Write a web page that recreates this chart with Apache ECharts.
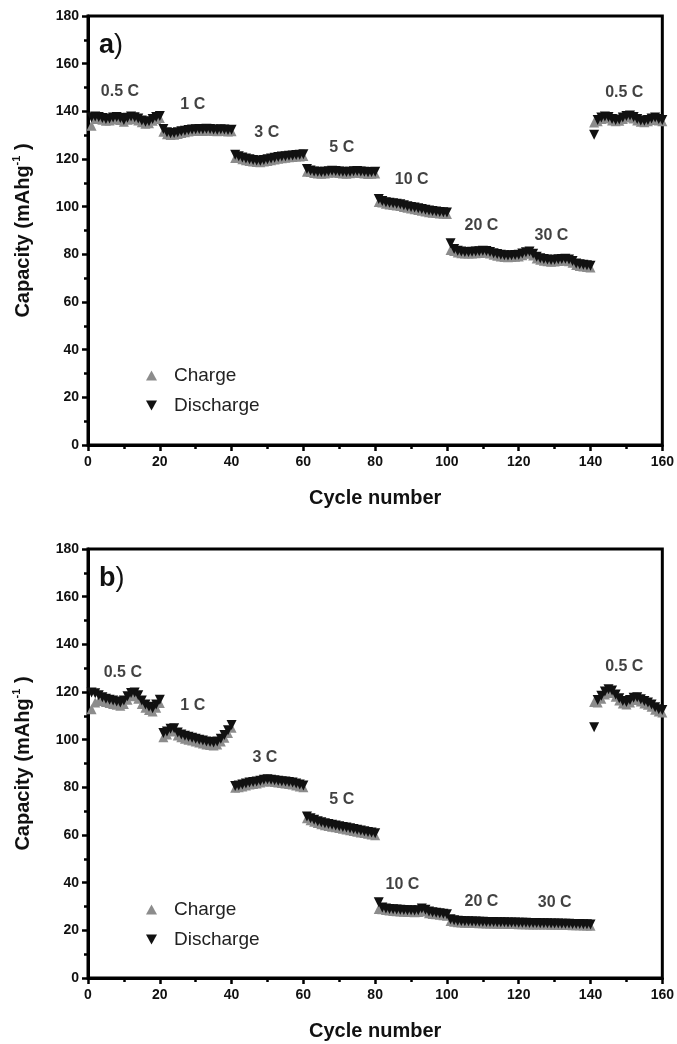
<!DOCTYPE html>
<html><head><meta charset="utf-8">
<script src="https://cdn.jsdelivr.net/npm/echarts@6/dist/echarts.min.js"></script>
<style>html,body{margin:0;padding:0;background:#fff}#c{width:677px;height:1044px}</style>
</head><body><div id="c"></div>
<script>
const cycles = Array.from({length: 160}, (_, i) => i + 1);

const chargeA = [
134.0,136.8,136.9,136.5,136.0,136.2,136.6,136.8,136.4,135.6,136.5,137.0,136.7,136.2,135.4,134.8,135.0,136.0,136.8,137.2,
131.4,130.4,130.1,130.2,130.5,130.9,131.2,131.5,131.7,131.8,131.9,131.8,132.0,131.9,131.7,131.6,131.8,131.7,131.5,131.6,
120.4,120.4,119.9,119.5,119.2,118.9,118.7,118.6,118.9,119.2,119.5,119.8,120.1,120.3,120.5,120.7,120.8,121.0,121.1,121.3,
114.6,114.5,114.1,113.9,113.8,113.9,114.2,114.4,114.3,114.1,113.9,113.8,114.0,114.2,114.3,114.1,113.9,113.7,113.8,113.9,
102.0,101.7,101.2,100.9,100.7,100.5,100.3,99.9,99.5,99.2,98.9,98.6,98.3,98.0,97.7,97.5,97.3,97.1,97.0,96.9,
81.8,81.4,80.8,80.5,80.3,80.3,80.4,80.5,80.6,80.8,80.7,80.3,79.8,79.4,79.1,78.9,78.8,78.9,79.0,79.1,
79.6,80.2,80.5,79.5,78.3,77.7,77.3,77.1,76.9,77.0,77.2,77.3,77.4,77.1,76.5,75.5,75.1,74.9,74.7,74.5,
135.3,135.8,136.8,137.2,137.0,136.2,135.8,136.0,136.8,137.4,137.6,137.0,136.2,135.6,135.4,135.8,136.4,136.8,136.2,135.8
];
const dischargeA = [
137.5,137.8,137.6,137.2,136.8,137.0,137.4,137.6,137.2,136.4,137.3,137.8,137.5,137.0,136.2,135.6,135.8,136.8,137.6,138.0,
132.6,131.2,130.8,130.9,131.2,131.6,131.9,132.2,132.4,132.5,132.6,132.5,132.7,132.6,132.4,132.3,132.5,132.4,132.2,132.3,
121.8,121.2,120.6,120.2,119.9,119.6,119.4,119.3,119.6,119.9,120.2,120.5,120.8,121.0,121.2,121.4,121.5,121.7,121.8,122.0,
115.8,115.2,114.8,114.6,114.5,114.6,114.9,115.1,115.0,114.8,114.6,114.5,114.7,114.9,115.0,114.8,114.6,114.4,114.5,114.6,
103.2,102.4,101.9,101.6,101.4,101.2,101.0,100.6,100.2,99.9,99.6,99.3,99.0,98.7,98.4,98.2,98.0,97.8,97.7,97.6,
84.6,82.2,81.5,81.2,81.0,81.0,81.1,81.2,81.3,81.5,81.4,81.0,80.5,80.1,79.8,79.6,79.5,79.6,79.7,79.8,
80.4,80.9,81.2,80.2,79.0,78.4,78.0,77.8,77.6,77.7,77.9,78.0,78.1,77.8,77.2,76.2,75.8,75.6,75.4,75.2,
130.2,136.4,137.4,137.8,137.6,136.8,136.4,136.6,137.4,138.0,138.2,137.6,136.8,136.2,136.0,136.4,137.0,137.4,136.8,136.4
];
const chargeB = [
112.8,115.6,116.4,116.2,115.8,115.4,115.0,114.6,114.2,115.0,116.8,118.2,118.4,117.2,115.0,113.4,112.4,111.8,113.4,115.4,
101.0,102.2,103.4,103.6,101.8,101.0,100.4,100.0,99.6,99.2,98.8,98.4,98.0,97.8,97.6,98.0,99.2,100.8,102.8,105.0,
79.8,80.0,80.4,80.8,81.2,81.4,81.6,82.0,82.4,82.6,82.4,82.2,82.0,81.8,81.6,81.4,81.2,80.8,80.4,80.0,
67.0,66.2,65.6,65.0,64.5,64.1,63.8,63.5,63.2,62.9,62.6,62.3,62.0,61.7,61.4,61.1,60.8,60.5,60.2,59.9,
29.0,28.8,28.5,28.3,28.1,28.0,27.9,27.8,27.7,27.7,27.6,27.7,28.5,27.9,27.2,26.9,26.7,26.5,26.3,26.1,
23.9,23.6,23.4,23.3,23.2,23.2,23.1,23.1,23.0,23.0,22.9,22.9,22.9,22.8,22.8,22.8,22.7,22.7,22.7,22.6,
22.6,22.6,22.5,22.5,22.5,22.4,22.4,22.4,22.3,22.3,22.3,22.2,22.2,22.2,22.1,22.1,22.1,22.0,22.0,21.9,
115.8,115.6,117.2,119.0,120.0,119.6,118.0,116.4,115.2,114.8,115.6,116.6,116.8,116.0,115.2,114.6,113.8,112.6,111.8,111.4
];
const dischargeB = [
119.8,119.5,118.6,117.8,117.2,116.8,116.4,116.0,115.6,116.4,118.2,119.6,119.8,118.6,116.4,114.8,113.8,113.2,114.8,116.8,
102.8,103.4,104.6,104.8,103.0,102.2,101.6,101.2,100.8,100.4,100.0,99.6,99.2,99.0,98.8,99.2,100.4,102.0,104.0,106.2,
80.6,80.8,81.2,81.6,82.0,82.2,82.4,82.8,83.2,83.4,83.2,83.0,82.8,82.6,82.4,82.2,82.0,81.6,81.2,80.8,
67.8,67.0,66.4,65.8,65.3,64.9,64.6,64.3,64.0,63.7,63.4,63.1,62.8,62.5,62.2,61.9,61.6,61.3,61.0,60.7,
31.8,29.6,29.2,29.0,28.8,28.7,28.6,28.5,28.4,28.4,28.3,28.4,29.2,28.6,27.9,27.6,27.4,27.2,27.0,26.8,
24.6,24.2,24.0,23.9,23.8,23.8,23.7,23.7,23.6,23.6,23.5,23.5,23.5,23.4,23.4,23.4,23.3,23.3,23.3,23.2,
23.2,23.2,23.1,23.1,23.1,23.0,23.0,23.0,22.9,22.9,22.9,22.8,22.8,22.8,22.7,22.7,22.7,22.6,22.6,22.5,
105.2,116.6,118.4,120.2,121.2,120.6,119.0,117.4,116.2,115.8,116.6,117.6,117.8,117.0,116.2,115.6,114.8,113.6,112.8,112.4
];

const rateNames = ['0.5 C', '1 C', '3 C', '5 C', '10 C', '20 C', '30 C', '0.5 C'];
const rateCycleA = [8.9, 29.2, 49.8, 70.7, 90.2, 109.6, 129.1, 149.4];
const rateCapA   = [148.3, 142.8, 131.1, 124.9, 111.5, 91.9, 87.7, 147.8];
const rateCycleB = [9.7, 29.2, 49.3, 70.7, 87.6, 109.6, 130.0, 149.4];
const rateCapB   = [128.0, 114.5, 92.3, 74.7, 39.4, 32.0, 31.5, 130.5];

const FONT = 'Arial, "Liberation Sans", sans-serif';
const chart = echarts.init(document.getElementById('c'), null, {renderer: 'canvas'});

const grids = [
  {left: 88, top: 16, width: 575, height: 429},
  {left: 88, top: 549, width: 575, height: 429}
].map(g => Object.assign(g, {show: true, borderWidth: 3, borderColor: '#000', backgroundColor: 'transparent'}));

function xAxisFor(i) {
  return {
    gridIndex: i, type: 'value', min: 0, max: 160, interval: 20,
    name: 'Cycle number', nameLocation: 'middle', nameGap: 43,
    nameTextStyle: {fontFamily: FONT, fontWeight: 'bold', fontSize: 20, color: '#111'},
    axisLine: {lineStyle: {color: '#000', width: 3}},
    axisTick: {inside: false, length: 6, lineStyle: {color: '#000', width: 2.5}},
    minorTick: {show: true, splitNumber: 2, length: 4, lineStyle: {color: '#000', width: 2.5}},
    splitLine: {show: false},
    axisLabel: {fontFamily: FONT, fontWeight: 'bold', fontSize: 14, color: '#111', margin: 10}
  };
}
function yAxisFor(i) {
  return {
    gridIndex: i, type: 'value', min: 0, max: 180, interval: 20,
    name: '{t|Capacity (mAhg}{s|-1}{t| )}', nameLocation: 'middle', nameGap: 53, nameRotate: 90,
    nameTextStyle: {
      rich: {
        t: {fontFamily: FONT, fontWeight: 'bold', fontSize: 20, color: '#111', lineHeight: 24},
        s: {fontFamily: FONT, fontWeight: 'bold', fontSize: 11, color: '#111', verticalAlign: 'top', lineHeight: 12}
      }
    },
    axisLine: {lineStyle: {color: '#000', width: 3}},
    axisTick: {inside: false, length: 6, lineStyle: {color: '#000', width: 2.5}},
    minorTick: {show: true, splitNumber: 2, length: 4, lineStyle: {color: '#000', width: 2.5}},
    splitLine: {show: false},
    axisLabel: {fontFamily: FONT, fontWeight: 'bold', fontSize: 14, color: '#111', margin: 9}
  };
}
function pairs(vals) { return vals.map((v, i) => [cycles[i], v]); }
function scatter(name, i, vals, color, rotate) {
  return {
    name: name, type: 'scatter', xAxisIndex: i, yAxisIndex: i,
    symbol: 'triangle', symbolSize: 10, symbolRotate: rotate,
    itemStyle: {color: color, opacity: 1},
    data: pairs(vals), silent: true, animation: false
  };
}
function rateSeries(i, xs, ys) {
  return {
    type: 'scatter', xAxisIndex: i, yAxisIndex: i, symbolSize: 1,
    itemStyle: {color: 'rgba(0,0,0,0)'}, silent: true, animation: false,
    data: rateNames.map((n, k) => ({value: [xs[k], ys[k]], name: n})),
    label: {show: true, position: 'inside', formatter: p => p.name,
      fontFamily: FONT, fontWeight: 'bold', fontSize: 16, color: '#111'}
  };
}
function legendFor(top) {
  return {
    orient: 'vertical', left: 141, top: top, itemGap: 11, itemWidth: 11, itemHeight: 10,
    selectedMode: false,
    textStyle: {fontFamily: FONT, fontSize: 19, color: '#222', padding: [0, 0, 0, 12]},
    data: [
      {name: 'Charge', icon: 'triangle'},
      {name: 'Discharge', icon: 'path://M0,0L10,0L5,9Z'}
    ]
  };
}

chart.setOption({
  animation: false,
  backgroundColor: '#fff',
  title: [
    {text: '{a|a}{p|)}', left: 94, top: 27, textStyle: {rich: {
      a: {fontFamily: FONT, fontWeight: 'bold', fontSize: 27, color: '#111'},
      p: {fontFamily: FONT, fontWeight: 'normal', fontSize: 27, color: '#111'}}}},
    {text: '{a|b}{p|)}', left: 94, top: 560, textStyle: {rich: {
      a: {fontFamily: FONT, fontWeight: 'bold', fontSize: 27, color: '#111'},
      p: {fontFamily: FONT, fontWeight: 'normal', fontSize: 27, color: '#111'}}}}
  ],
  legend: [legendFor(361), legendFor(895)],
  grid: grids,
  xAxis: [xAxisFor(0), xAxisFor(1)],
  yAxis: [yAxisFor(0), yAxisFor(1)],
  series: [
    scatter('Charge', 0, chargeA, '#8c8c8c', 0),
    scatter('Discharge', 0, dischargeA, '#111', 180),
    scatter('Charge', 1, chargeB, '#8c8c8c', 0),
    scatter('Discharge', 1, dischargeB, '#111', 180),
    rateSeries(0, rateCycleA, rateCapA),
    rateSeries(1, rateCycleB, rateCapB)
  ]
});
</script></body></html>
